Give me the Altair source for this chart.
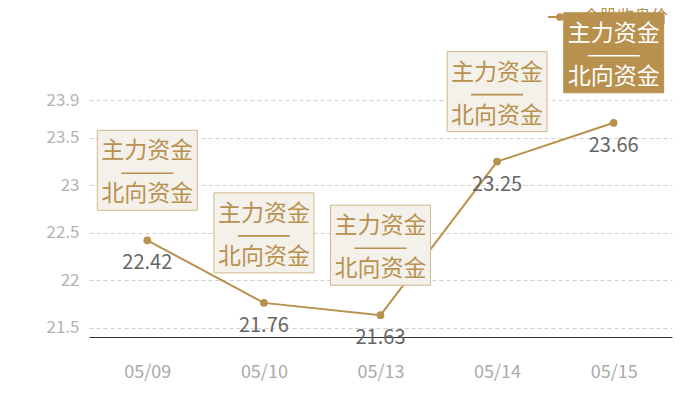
import altair as alt
import pandas as pd

# ---- data ----
dates = ["05/09", "05/10", "05/13", "05/14", "05/15"]
prices = [22.42, 21.76, 21.63, 23.25, 23.66]
highlight = [False, False, False, False, True]
box_line1 = "主力资金"
box_line2 = "北向资金"
series_name = "个股收盘价"
y_ticks = [21.5, 22, 22.5, 23, 23.5, 23.9]
y_domain = [21.4, 23.9]

df = pd.DataFrame({
    "date": dates,
    "price": prices,
    "hl": highlight,
    "label": [f"{p:.2f}" for p in prices],
    "t1": [box_line1] * len(dates),
    "t2": [box_line2] * len(dates),
})

GOLD = "#b8914f"
FONT = "Noto Sans CJK SC"

x = alt.X("date:N", sort=dates, title=None,
          scale=alt.Scale(type="point", padding=0.5),
          axis=alt.Axis(labelAngle=0, ticks=False, labelPadding=26,
                        labelFontSize=18, labelColor="#aaaaaa", labelFont=FONT,
                        domainColor="#333333", domainWidth=1, grid=False))
y = alt.Y("price:Q", title=None,
          scale=alt.Scale(domain=y_domain, nice=False, zero=False),
          axis=alt.Axis(values=y_ticks, format="~g", domain=False, ticks=False,
                        grid=True, gridDash=[4, 3], gridColor="#d0d0d0",
                        labelFontSize=17, labelColor="#b3b3b3", labelFont=FONT,
                        labelPadding=10))

base = alt.Chart(df).encode(x=x, y=y)

line = base.mark_line(color=GOLD, strokeWidth=2)
points = base.mark_point(filled=True, color=GOLD, size=60, opacity=1, shape="circle")
labels = base.mark_text(dy=23, fontSize=20, color="#666666", font=FONT,
                        baseline="middle").encode(text="label:N")

box = base.mark_point(shape="M-1,-0.8H1V0.8H-1Z", size=10000, filled=True,
                      yOffset=-70, strokeWidth=1, opacity=1).encode(
    fill=alt.condition("datum.hl", alt.value(GOLD), alt.value("#f4f0ea")),
    stroke=alt.condition("datum.hl", alt.value(GOLD), alt.value("#d2b88e")),
)
txt_color = alt.condition("datum.hl", alt.value("#ffffff"), alt.value(GOLD))
t1 = base.mark_text(yOffset=-89, fontSize=23, font=FONT, baseline="middle").encode(
    text="t1:N", color=txt_color)
t2 = base.mark_text(yOffset=-46, fontSize=23, font=FONT, baseline="middle").encode(
    text="t2:N", color=txt_color)
sep = base.mark_rule(xOffset=-26, x2Offset=26, yOffset=-67, strokeWidth=1.6).encode(
    x2="date:N", color=txt_color)

leg_df = pd.DataFrame({"name": [series_name]})
leg_base = alt.Chart(leg_df)
leg_rule = leg_base.mark_rule(color=GOLD, strokeWidth=2).encode(
    x=alt.value(459), x2=alt.value(483), y=alt.value(-83))
leg_pt = leg_base.mark_point(filled=True, color=GOLD, size=60, opacity=1).encode(
    x=alt.value(471), y=alt.value(-83))
leg_txt = leg_base.mark_text(align="left", baseline="middle", fontSize=17,
                             font=FONT, color=GOLD).encode(
    x=alt.value(494), y=alt.value(-83), text="name:N")

chart = alt.layer(
    leg_rule, leg_pt, leg_txt, line, points, labels, box, t1, sep, t2
).properties(
    width=583, height=237,
    background="white",
    autosize=alt.AutoSizeParams(type="none"),
    padding={"left": 81, "top": 92, "right": 20, "bottom": 55},
).configure_view(stroke=None, strokeWidth=0)

chart.save("out.html", embed_options={"renderer": "svg", "actions": False})
